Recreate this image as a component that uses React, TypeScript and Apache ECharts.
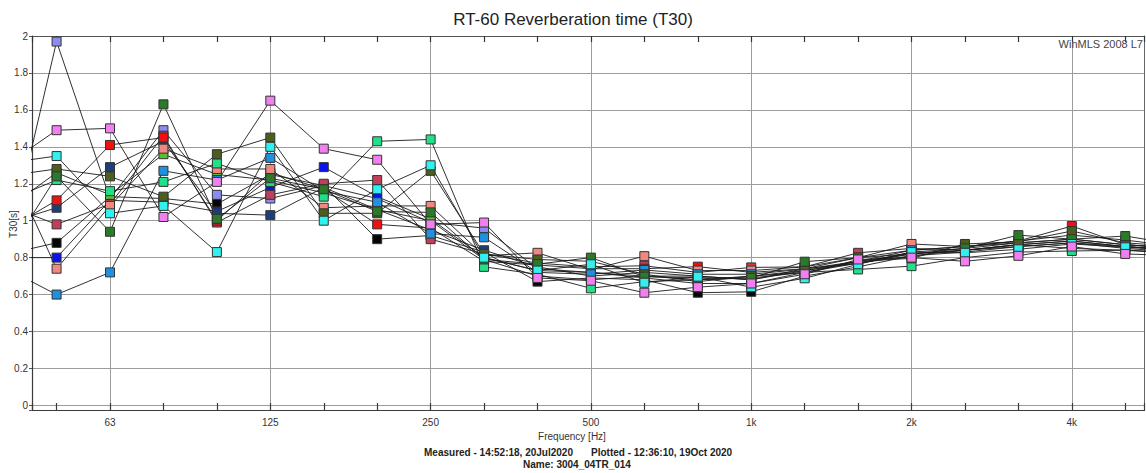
import React, { useEffect, useRef } from 'react';
import * as echarts from 'echarts';

// 1/3-octave band index relative to 63 Hz (40 Hz ... 6.3 kHz)
const bandIndex = [-2, -1, 0, 1, 2, 3, 4, 5, 6, 7, 8, 9, 10, 11, 12, 13, 14, 15, 16, 17, 18, 19, 20];
// bands: 40, 50, 63, 80, 100, 125, 160, 200, 250, 315, 400, 500, 630, 800, 1k, 1.25k, 1.6k, 2k, 2.5k, 3.15k, 4k, 5k, 6.3k
const octaveLabels: Record<number, string> = { 0: '63', 3: '125', 6: '250', 9: '500', 12: '1k', 15: '2k', 18: '4k' };

const posLavender = [0.73, 1.97, 1.12, 1.49, 1.14, 1.12, 1.19, 1.12, 0.99, 0.96, 0.74, 0.72, 0.70, 0.68, 0.70, 0.72, 0.78, 0.82, 0.84, 0.87, 0.85, 0.84, 0.82];
const posBlack = [0.815, 0.88, 1.13, 1.12, 1.09, 1.25, 1.19, 0.90, 0.92, 0.83, 0.67, 0.69, 0.68, 0.61, 0.615, 0.70, 0.75, 0.81, 0.83, 0.86, 0.88, 0.85, 0.83];
const posBlue = [0.80, 0.80, 1.11, 1.10, 1.05, 1.18, 1.29, 1.13, 1.01, 0.80, 0.73, 0.72, 0.69, 0.66, 0.66, 0.72, 0.77, 0.82, 0.84, 0.87, 0.89, 0.86, 0.84];
const posLightGreen = [1.05, 1.26, 1.14, 1.36, 1.25, 1.22, 1.15, 1.06, 1.00, 0.79, 0.70, 0.68, 0.70, 0.70, 0.68, 0.73, 0.77, 0.81, 0.84, 0.86, 0.88, 0.86, 0.84];
const posNavy = [0.98, 1.07, 1.29, 1.43, 1.04, 1.03, 1.18, 1.06, 0.95, 0.84, 0.75, 0.70, 0.72, 0.70, 0.68, 0.74, 0.77, 0.83, 0.85, 0.88, 0.90, 0.87, 0.85];
const posCrimson = [1.09, 0.98, 1.09, 1.46, 0.99, 1.14, 1.20, 1.22, 0.90, 0.82, 0.77, 0.75, 0.756, 0.72, 0.747, 0.75, 0.826, 0.85, 0.84, 0.87, 0.89, 0.86, 0.84];
const posRed = [0.94, 1.11, 1.41, 1.45, 1.00, 1.26, 1.17, 0.98, 0.96, 0.78, 0.76, 0.74, 0.74, 0.751, 0.72, 0.74, 0.80, 0.84, 0.86, 0.89, 0.971, 0.87, 0.85];
const posSalmon = [1.37, 0.74, 1.08, 1.39, 1.28, 1.28, 1.07, 1.08, 1.08, 0.81, 0.826, 0.735, 0.808, 0.73, 0.73, 0.75, 0.80, 0.874, 0.86, 0.88, 0.90, 0.87, 0.85];
const posDodger = [0.75, 0.60, 0.72, 1.27, 1.22, 1.34, 1.16, 1.10, 0.93, 0.91, 0.72, 0.71, 0.733, 0.71, 0.71, 0.738, 0.78, 0.84, 0.86, 0.89, 0.922, 0.895, 0.86];
const posSpring = [1.10, 1.22, 1.16, 1.21, 1.31, 1.21, 1.13, 1.43, 1.44, 0.75, 0.71, 0.634, 0.67, 0.68, 0.69, 0.72, 0.736, 0.754, 0.80, 0.83, 0.836, 0.84, 0.83];
const posOlive = [1.24, 1.28, 1.24, 1.13, 1.36, 1.45, 1.04, 1.04, 1.27, 0.82, 0.79, 0.78, 0.71, 0.67, 0.70, 0.73, 0.78, 0.796, 0.874, 0.886, 0.944, 0.88, 0.86];
const posGreen = [0.78, 1.24, 0.94, 1.63, 1.01, 1.23, 1.17, 1.05, 1.045, 0.79, 0.765, 0.80, 0.697, 0.69, 0.69, 0.778, 0.80, 0.82, 0.85, 0.922, 0.90, 0.917, 0.87];
const posCyan = [1.31, 1.35, 1.04, 1.08, 0.83, 1.40, 1.00, 1.17, 1.30, 0.80, 0.73, 0.764, 0.664, 0.697, 0.64, 0.688, 0.764, 0.83, 0.826, 0.845, 0.874, 0.856, 0.84];
const posViolet = [1.29, 1.49, 1.50, 1.02, 1.21, 1.65, 1.39, 1.33, 0.98, 0.99, 0.69, 0.675, 0.61, 0.64, 0.66, 0.71, 0.79, 0.80, 0.78, 0.81, 0.86, 0.82, 0.81];

const seriesNames = ['P01', 'P02', 'P03', 'P04', 'P05', 'P06', 'P07', 'P08', 'P09', 'P10', 'P11', 'P12', 'P13', 'P14'];
const seriesValues = [posLavender, posBlack, posBlue, posLightGreen, posNavy, posCrimson, posRed, posSalmon, posDodger, posSpring, posOlive, posGreen, posCyan, posViolet];
const seriesColors = ['#8c8cf0', '#050505', '#0a14e6', '#58c030', '#1c3f78', '#c0405c', '#f01010', '#f08880', '#2090e0', '#20e088', '#4b5e1e', '#2a7a2a', '#30f0f0', '#f080f0'];

const FONT = '"Liberation Sans", Arial, sans-serif';
const X_MIN = -1.46;
const X_MAX = 19.36;
const Y_MIN = -0.025;
const Y_MAX = 2;

export default function App() {
  const ref = useRef<HTMLDivElement>(null);
  useEffect(() => {
    if (!ref.current) return;
    const chart = echarts.init(ref.current, undefined, { renderer: 'svg' });
    const isInt = (v: number) => Math.abs(v - Math.round(v)) < 1e-6;
    const option: any = {
      animation: false,
      backgroundColor: '#ffffff',
      textStyle: { fontFamily: FONT },
      grid: { left: 32, right: 1.5, top: 36, bottom: 63, containLabel: false, outerBoundsMode: 'none' },
      xAxis: [
        {
          type: 'value', min: X_MIN, max: X_MAX, splitNumber: 20, position: 'bottom',
          axisLine: { show: true, onZero: false, lineStyle: { color: '#3a3a3a', width: 1.2 } },
          axisTick: { show: true, inside: true, length: 7, lineStyle: { color: '#3a3a3a', width: 1.2 } },
          axisLabel: {
            fontSize: 10, color: '#333', margin: 7, fontFamily: FONT,
            formatter: (v: number) => (isInt(v) && octaveLabels[Math.round(v)]) ? octaveLabels[Math.round(v)] : '',
          },
          splitLine: { show: false },
        },
        {
          type: 'value', min: X_MIN, max: X_MAX, splitNumber: 20, position: 'top',
          axisLine: { show: true, onZero: false, lineStyle: { color: '#555', width: 1 } },
          axisTick: { show: true, inside: true, length: 6, lineStyle: { color: '#333', width: 1.2 } },
          axisLabel: { show: false },
          splitLine: { show: false },
        },
        {
          type: 'value', min: X_MIN, max: X_MAX, splitNumber: 7, position: 'bottom',
          axisLine: { show: false, onZero: false }, axisTick: { show: false }, axisLabel: { show: false },
          splitLine: { show: true, lineStyle: { color: '#9c9c9c', width: 1 } },
        },
      ],
      yAxis: [
        {
          type: 'value', min: Y_MIN, max: Y_MAX, splitNumber: 10, position: 'left',
          axisLine: { show: true, onZero: false, lineStyle: { color: '#3a3a3a', width: 1.2 } },
          axisTick: { show: true, length: 3, lineStyle: { color: '#555' } },
          axisLabel: {
            fontSize: 10, color: '#333', margin: 4, fontFamily: FONT,
            formatter: (v: number) => (v < -1e-6 ? '' : String(Math.round(v * 10) / 10)),
          },
          splitLine: { show: true, lineStyle: { color: '#9c9c9c', width: 1 } },
        },
        {
          type: 'value', min: Y_MIN, max: Y_MAX, splitNumber: 10, position: 'right',
          axisLine: { show: true, onZero: false, lineStyle: { color: '#666', width: 1 } },
          axisTick: { show: false }, axisLabel: { show: false }, splitLine: { show: false },
        },
      ],
      graphic: [
        { type: 'text', x: 573, y: 19, style: { text: 'RT-60 Reverberation time (T30)', font: `17px ${FONT}`, fill: '#222', textAlign: 'center', textVerticalAlign: 'middle' } },
        { type: 'text', x: 1143, y: 44, z: 100, style: { text: 'WinMLS 2008 L7', font: `11px ${FONT}`, fill: '#444', textAlign: 'right', textVerticalAlign: 'middle' } },
        { type: 'text', x: 13, y: 224, rotation: Math.PI / 2, style: { text: 'T30[s]', font: `10px ${FONT}`, fill: '#333', textAlign: 'center', textVerticalAlign: 'middle' } },
        { type: 'text', x: 572, y: 436, style: { text: 'Frequency [Hz]', font: `10px ${FONT}`, fill: '#333', textAlign: 'center', textVerticalAlign: 'middle' } },
        { type: 'text', x: 573, y: 452, style: { text: 'Measured - 14:52:18, 20Jul2020', font: `bold 10px ${FONT}`, fill: '#222', textAlign: 'right', textVerticalAlign: 'middle' } },
        { type: 'text', x: 591, y: 452, style: { text: 'Plotted - 12:36:10, 19Oct 2020', font: `bold 10px ${FONT}`, fill: '#222', textAlign: 'left', textVerticalAlign: 'middle' } },
        { type: 'text', x: 577, y: 464, style: { text: 'Name: 3004_04TR_014', font: `bold 10px ${FONT}`, fill: '#222', textAlign: 'center', textVerticalAlign: 'middle' } },
      ],
      series: seriesValues.map((vals, si) => ({
        type: 'line',
        name: seriesNames[si],
        xAxisIndex: 0,
        yAxisIndex: 0,
        clip: true,
        symbol: 'rect',
        symbolSize: 9,
        showSymbol: true,
        lineStyle: { color: '#1a1a1a', width: 0.9 },
        itemStyle: { color: seriesColors[si], borderColor: '#333', borderWidth: 1 },
        emphasis: { disabled: true },
        data: bandIndex.map((b, i) => [b, vals[i]]),
      })),
    };
    chart.setOption(option);
    return () => chart.dispose();
  }, []);
  return (
    <div
      ref={ref}
      style={{ position: 'fixed', left: 0, top: 0, width: 1146, height: 473, background: '#fff' }}
    />
  );
}
